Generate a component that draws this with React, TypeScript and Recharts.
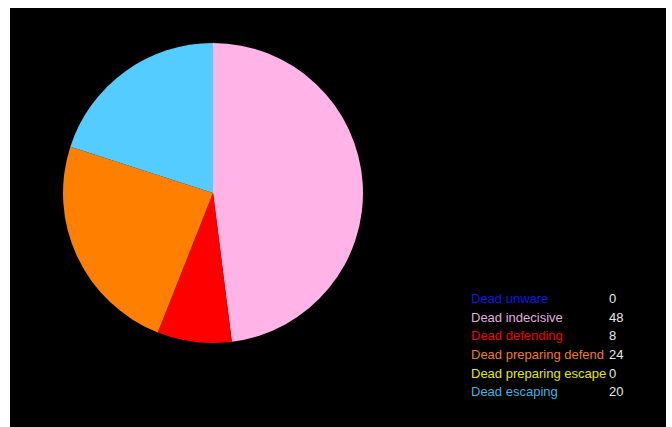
import React from 'react';
import { PieChart, Pie, Cell, Legend } from 'recharts';

const categories = [
  'Dead unware',
  'Dead indecisive',
  'Dead defending',
  'Dead preparing defend',
  'Dead preparing escape',
  'Dead escaping',
];
const counts = [0, 48, 8, 24, 0, 20];
const sliceColors = ['#0000FF', '#FFB3E6', '#FF0000', '#FF8000', '#FFFF00', '#55CCFF'];
const labelColors = ['#1414E6', '#E0AEDF', '#F00000', '#EE7A28', '#E6E600', '#3DB4E2'];

const data = categories.map((name, i) => ({ name, value: counts[i] }));

const FONT = '"Liberation Sans", Arial, sans-serif';

const renderLegend = () => (
  <div style={{ fontFamily: FONT, fontSize: 13 }}>
    {data.map((d, i) => (
      <div key={d.name} style={{ display: 'flex', height: 18.7, lineHeight: '18.7px' }}>
        <span style={{ width: 138, color: labelColors[i], whiteSpace: 'nowrap' }}>{d.name}</span>
        <span style={{ color: '#e8e8e8' }}>{d.value}</span>
      </div>
    ))}
  </div>
);

export default function App() {
  return (
    <div
      style={{
        position: 'absolute',
        left: 10,
        top: 8,
        width: 656,
        height: 419,
        background: '#000',
      }}
    >
      <PieChart width={656} height={419} margin={{ top: 0, right: 0, bottom: 0, left: 0 }}>
        <Pie
          data={data}
          dataKey="value"
          nameKey="name"
          cx={203}
          cy={185}
          outerRadius={150}
          startAngle={90}
          endAngle={-270}
          stroke="none"
          isAnimationActive={false}
        >
          {data.map((d, i) => (
            <Cell key={d.name} fill={sliceColors[i]} />
          ))}
        </Pie>
        <Legend
          content={renderLegend}
          wrapperStyle={{ position: 'absolute', left: 461, top: 282, width: 190 }}
        />
      </PieChart>
    </div>
  );
}
